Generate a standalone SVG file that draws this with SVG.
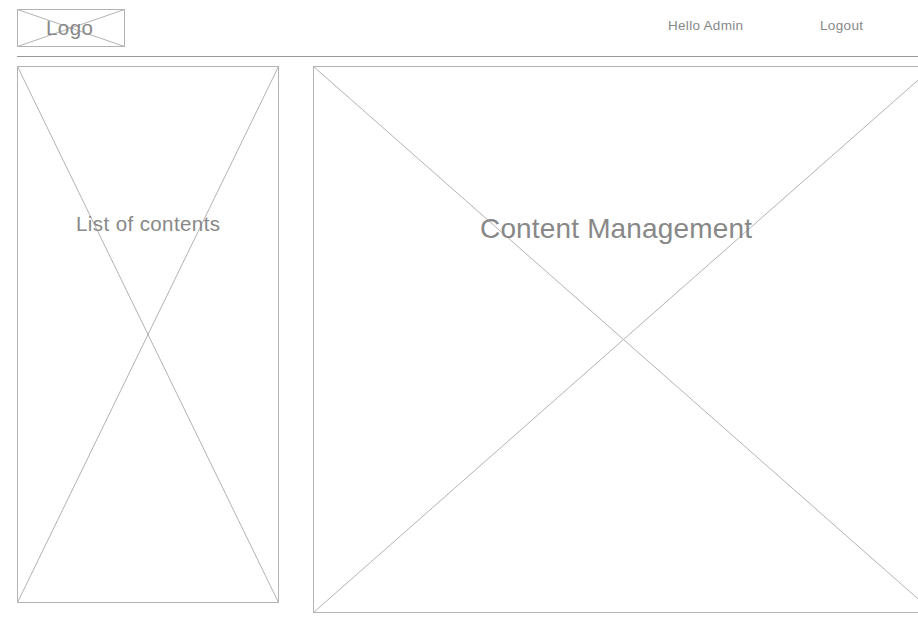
<svg xmlns="http://www.w3.org/2000/svg" width="918" height="625" viewBox="0 0 918 625">
<style>
.box{fill:none;stroke:#b3b3b3;stroke-width:1}
.x{stroke:#b3b3b3;stroke-width:1}
.t{font-family:"Liberation Sans",Arial,sans-serif;fill:#888;text-anchor:middle}
</style>
<rect width="918" height="625" fill="#fff"/>
<g id="logo">
<rect class="box" x="17.5" y="9.5" width="107" height="37"/>
<line class="x" x1="17.5" y1="9.5" x2="124.5" y2="46.5"/>
<line class="x" x1="124.5" y1="9.5" x2="17.5" y2="46.5"/>
<text class="t" x="69.5" y="34.5" font-size="20.5" textLength="47">Logo</text>
</g>
<g id="hello">
<text class="t" x="705.5" y="29.5" font-size="13.5" textLength="75">Hello Admin</text>
</g>
<g id="logout">
<text class="t" x="841.5" y="29.5" font-size="13.5" textLength="43">Logout</text>
</g>
<g id="header-line">
<line x1="17" y1="56.5" x2="918" y2="56.5" stroke="#999" stroke-width="1"/>
</g>
<g id="list">
<rect class="box" x="17.5" y="66.5" width="261" height="536"/>
<line class="x" x1="17.5" y1="66.5" x2="278.5" y2="602.5"/>
<line class="x" x1="278.5" y1="66.5" x2="17.5" y2="602.5"/>
<text class="t" x="148" y="231" font-size="20.5" textLength="144">List of contents</text>
</g>
<g id="content">
<rect class="box" x="313.5" y="66.5" width="620" height="546"/>
<line class="x" x1="313.5" y1="66.5" x2="933.5" y2="612.5"/>
<line class="x" x1="933.5" y1="66.5" x2="313.5" y2="612.5"/>
<text class="t" x="616" y="237.5" font-size="28" textLength="272">Content Management</text>
</g>
</svg>
